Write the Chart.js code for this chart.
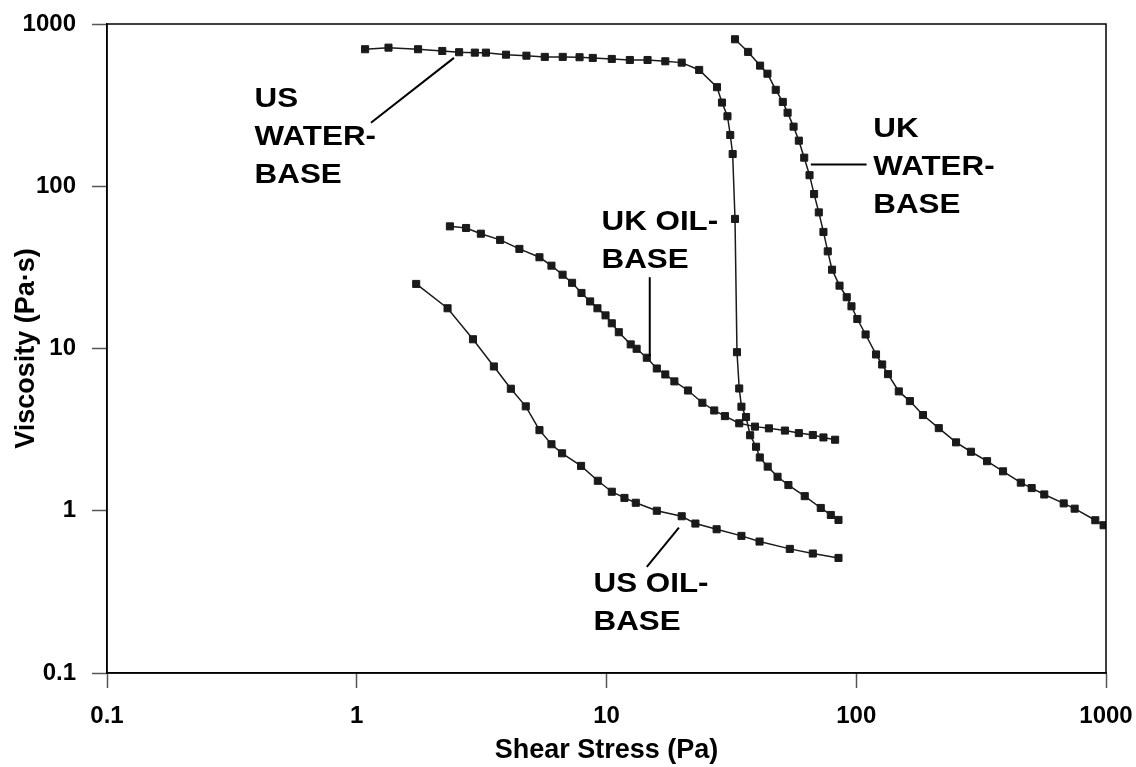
<!DOCTYPE html>
<html>
<head>
<meta charset="utf-8">
<script src="https://cdn.jsdelivr.net/npm/chart.js@4"></script>
<style>
  body { margin: 0; background: #fff; }
  #wrap { width: 1136px; height: 767px; }
</style>
</head>
<body>
<div id="wrap"><canvas id="chartViscosity"></canvas></div>
<script>
const usWaterX = [1.08, 1.34, 1.76, 2.20, 2.57, 2.97, 3.29, 3.96, 4.78, 5.66, 6.68, 7.80, 8.81, 10.5, 12.4, 14.6, 17.2, 20.0, 23.5, 27.7, 29.0, 30.5, 31.3, 32.0, 32.7, 33.3, 34.0, 34.7, 36.2, 37.6, 39.7, 41.1, 44.2, 48.4, 53.5, 62.2, 72.1, 79.1, 84.9];
const usWaterY = [699, 715, 699, 682, 670, 666, 666, 647, 638, 627, 627, 624, 618, 609, 600, 600, 589, 578, 521, 408, 328, 270, 207, 158, 62.9, 9.49, 5.67, 4.38, 3.78, 2.92, 2.48, 2.13, 1.87, 1.62, 1.44, 1.23, 1.04, 0.942, 0.878];

const ukWaterX = [32.7, 36.9, 41.2, 44.1, 47.6, 50.8, 53.1, 56.1, 58.9, 61.9, 65.0, 67.8, 70.8, 73.9, 76.9, 80.0, 85.7, 91.6, 95.7, 101, 109, 120, 127, 134, 148, 164, 185, 214, 251, 288, 334, 387, 456, 504, 566, 677, 749, 906, 978];
const ukWaterY = [805, 673, 554, 494, 393, 331, 284, 233, 191, 150, 117, 89.5, 69.0, 52.3, 39.7, 30.6, 24.4, 20.7, 18.2, 15.2, 12.2, 9.19, 7.97, 6.95, 5.44, 4.74, 3.89, 3.23, 2.64, 2.31, 2.02, 1.75, 1.49, 1.38, 1.26, 1.11, 1.03, 0.874, 0.814];

const ukOilX = [2.36, 2.74, 3.14, 3.75, 4.48, 5.39, 6.02, 6.67, 7.28, 7.94, 8.60, 9.20, 9.91, 10.5, 11.2, 12.5, 13.2, 14.5, 15.9, 17.2, 18.7, 21.2, 24.2, 27.0, 29.8, 34.0, 39.3, 44.7, 51.8, 58.9, 67.0, 73.9, 82.3];
const ukOilY = [56.6, 55.3, 51.0, 46.7, 41.1, 36.5, 32.4, 28.5, 25.4, 22.0, 19.5, 17.7, 16.0, 14.3, 12.6, 10.6, 9.96, 8.77, 7.53, 6.92, 6.27, 5.51, 4.63, 4.15, 3.83, 3.46, 3.30, 3.22, 3.12, 3.01, 2.93, 2.83, 2.74];

const usOilX = [1.73, 2.31, 2.92, 3.54, 4.14, 4.75, 5.39, 6.02, 6.64, 7.91, 9.23, 10.5, 11.8, 13.1, 15.9, 20.0, 22.7, 27.6, 34.7, 41.0, 54.2, 67.0, 84.9];
const usOilY = [25.0, 17.7, 11.4, 7.75, 5.65, 4.40, 3.14, 2.57, 2.26, 1.89, 1.53, 1.31, 1.20, 1.12, 1.00, 0.925, 0.834, 0.769, 0.700, 0.646, 0.582, 0.545, 0.512];

const xTicks = [0.1, 1, 10, 100, 1000];
const xTickLabels = ['0.1', '1', '10', '100', '1000'];
const yTicks = [0.1, 1, 10, 100, 1000];
const yTickLabels = ['0.1', '1', '10', '100', '1000'];

// curve labels, anchored at the first line's baseline (data coords)
const curveLabels = [
    { lines: ['US', 'WATER-', 'BASE'], x: 0.390, y: 310 },
    { lines: ['UK', 'WATER-', 'BASE'], x: 117, y: 200 },
    { lines: ['UK OIL-', 'BASE'], x: 9.55, y: 54 },
    { lines: ['US OIL-', 'BASE'], x: 8.87, y: 0.314 }
];
const leaderLines = [
    [[1.14, 246], [2.45, 618]],
    [[65.8, 136], [110, 136]],
    [[14.9, 27.5], [14.9, 8.97]],
    [[14.5, 0.451], [19.5, 0.788]]
];

const FONT = '"Liberation Sans", Arial, sans-serif';

function toPoints(xs, ys) {
    return xs.map((x, i) => ({ x: x, y: ys[i] }));
}

function series(label, xs, ys) {
    return {
        label: label,
        data: toPoints(xs, ys),
        showLine: true,
        borderColor: '#1a1a1a',
        borderWidth: 1.5,
        backgroundColor: '#1a1a1a',
        pointStyle: 'rect',
        pointRadius: 5,
        pointBorderWidth: 1,
        pointBorderColor: '#1a1a1a',
        pointBackgroundColor: '#1a1a1a',
        tension: 0
    };
}

// keep the plot box where the layout padding puts it
function noEdgePadding(s) {
    s.paddingTop = 0;
    s.paddingBottom = 0;
    s.paddingLeft = 0;
    s.paddingRight = 0;
}

const frameAndLabels = {
    id: 'frameAndLabels',
    afterDatasetsDraw(chart) {
        const ctx = chart.ctx;
        const a = chart.chartArea;
        const sx = chart.scales.x, sy = chart.scales.y;
        ctx.save();
        ctx.strokeStyle = '#000';
        ctx.lineWidth = 1.5;
        ctx.strokeRect(a.left, a.top, a.right - a.left, a.bottom - a.top);

        ctx.lineWidth = 2;
        leaderLines.forEach(seg => {
            ctx.beginPath();
            ctx.moveTo(sx.getPixelForValue(seg[0][0]), sy.getPixelForValue(seg[0][1]));
            ctx.lineTo(sx.getPixelForValue(seg[1][0]), sy.getPixelForValue(seg[1][1]));
            ctx.stroke();
        });

        ctx.fillStyle = '#000';
        ctx.font = 'bold 28px ' + FONT;
        ctx.textAlign = 'left';
        ctx.textBaseline = 'alphabetic';
        curveLabels.forEach(l => {
            const px = sx.getPixelForValue(l.x);
            const py = sy.getPixelForValue(l.y);
            l.lines.forEach((t, i) => {
                ctx.save();
                ctx.translate(px, py + i * 38);
                ctx.scale(1.12, 1);  // the reference lettering is a bit wide
                ctx.fillText(t, 0, 0);
                ctx.restore();
            });
        });
        ctx.restore();
    }
};

const ctx = document.getElementById('chartViscosity').getContext('2d');

new Chart(ctx, {
    type: 'scatter',
    data: {
        datasets: [
            series('US WATER-BASE', usWaterX, usWaterY),
            series('UK WATER-BASE', ukWaterX, ukWaterY),
            series('UK OIL-BASE', ukOilX, ukOilY),
            series('US OIL-BASE', usOilX, usOilY)
        ]
    },
    options: {
        responsive: true,
        maintainAspectRatio: false,
        animation: false,
        layout: {
            padding: { top: 24, right: 30, bottom: 0, left: 0 }
        },
        plugins: {
            legend: { display: false },
            tooltip: { enabled: false }
        },
        scales: {
            x: {
                type: 'logarithmic',
                min: 0.1,
                max: 1000,
                afterBuildTicks: s => { s.ticks = xTicks.map(v => ({ value: v })); },
                afterFit: s => { s.height = 94; noEdgePadding(s); },
                grid: { drawOnChartArea: false, drawTicks: true, tickLength: 15, tickColor: '#555', tickWidth: 1.5 },
                border: { display: true, color: '#000', width: 1.5 },
                ticks: {
                    color: '#000',
                    font: { family: FONT, size: 24, weight: 'bold' },
                    padding: 14,
                    maxRotation: 0,
                    autoSkip: false,
                    callback: (v, i) => xTickLabels[i]
                },
                title: {
                    display: true,
                    text: 'Shear Stress (Pa)',
                    color: '#000',
                    font: { family: FONT, size: 27, weight: 'bold' },
                    padding: { top: 0, bottom: 0 }
                }
            },
            y: {
                type: 'logarithmic',
                min: 0.1,
                max: 1000,
                afterBuildTicks: s => { s.ticks = yTicks.map(v => ({ value: v })); },
                afterFit: s => { s.width = 107; noEdgePadding(s); },
                grid: { drawOnChartArea: false, drawTicks: true, tickLength: 15, tickColor: '#555', tickWidth: 1.5 },
                border: { display: true, color: '#000', width: 1.5 },
                ticks: {
                    color: '#000',
                    font: { family: FONT, size: 24, weight: 'bold' },
                    padding: 16,
                    autoSkip: false,
                    callback: (v, i) => yTickLabels[i]
                },
                title: {
                    display: true,
                    text: 'Viscosity (Pa·s)',
                    color: '#000',
                    font: { family: FONT, size: 27, weight: 'bold' },
                    padding: { top: 10, bottom: 0 }
                }
            }
        }
    },
    plugins: [frameAndLabels]
});
</script>
</body>
</html>
